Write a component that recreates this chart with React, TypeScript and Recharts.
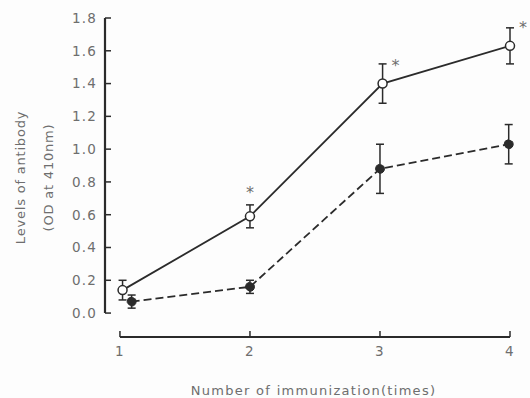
import React from 'react';
import { LineChart, Line, XAxis, YAxis, ErrorBar, ReferenceLine, LabelList } from 'recharts';

const TIMES = [1, 2, 3, 4];
const Y_TICKS = [0, 0.2, 0.4, 0.6, 0.8, 1.0, 1.2, 1.4, 1.6, 1.8];

// open circles, solid line
const OPEN_X = [1.02, 2.0, 3.02, 4.0];
const OPEN_MEAN = [0.14, 0.59, 1.4, 1.63];
const OPEN_ERR = [0.06, 0.07, 0.12, 0.11];
const OPEN_SIG = ['', 'top', 'right', 'right'];

// filled circles, dashed line
const FILLED_X = [1.09, 2.0, 3.0, 3.99];
const FILLED_MEAN = [0.07, 0.16, 0.88, 1.03];
const FILLED_ERR = [0.04, 0.04, 0.15, 0.12];

// axis frame: y axis sits left of the first tick, x axis drops below zero
const X_MIN = 0.885;
const X_MAX = 4;
const Y_BASE = -0.146;
const Y_MAX = 1.8;

const DARK = '#2b2b2b';
const GRAY = '#6e6e6e';
const FONT = '"DejaVu Sans", sans-serif';

const openData = OPEN_X.map((x, i) => ({ x, y: OPEN_MEAN[i], err: OPEN_ERR[i], sig: OPEN_SIG[i] }));
const filledData = FILLED_X.map((x, i) => ({ x, y: FILLED_MEAN[i], err: FILLED_ERR[i] }));

const renderStar = (props: any) => {
  const { x, y, value } = props;
  if (!value) return null;
  const dx = value === 'top' ? 0 : 13;
  const dy = value === 'top' ? -24 : -18;
  return (
    <text x={x + dx} y={y + dy} textAnchor="middle" dominantBaseline="central"
      fontSize={16} fill={GRAY} fontFamily={FONT}>*</text>
  );
};

const YLabel = (props: any) => {
  const { viewBox } = props;
  const cy = viewBox.y + viewBox.height / 2;
  const lines = ['Levels of antibody', '(OD at 410nm)'];
  const xs = [viewBox.x + 20, viewBox.x + 48];
  return (
    <g>
      {lines.map((t, i) => (
        <text key={t} x={xs[i]} y={cy} transform={`rotate(-90 ${xs[i]} ${cy})`}
          textAnchor="middle" dominantBaseline="central" fontSize={13}
          fill={GRAY} fontFamily={FONT} letterSpacing={0.8}>{t}</text>
      ))}
    </g>
  );
};

export default function App() {
  const tick = { fontSize: 13.5, fill: GRAY, fontFamily: FONT, letterSpacing: 1.2 };
  return (
    <div style={{ width: 530, height: 398, background: '#fdfdfd' }}>
      <style>{'body{margin:0}'}</style>
      <LineChart width={530} height={398} margin={{ top: 18, right: 20, bottom: 0, left: 0 }}>
        <XAxis type="number" dataKey="x" domain={[X_MIN, X_MAX]} ticks={TIMES}
          height={61} axisLine={false} tickSize={-6} tickMargin={15}
          tickLine={{ stroke: DARK, strokeWidth: 1.5 }} tick={tick}
          label={{ value: 'Number of immunization(times)', position: 'insideBottom', offset: 3, dx: 6,
            fill: GRAY, fontSize: 13, fontFamily: FONT, letterSpacing: 1.3 }} />
        <YAxis type="number" domain={[Y_BASE, Y_MAX]} ticks={Y_TICKS} width={105}
          axisLine={false} tickSize={-6} tickMargin={14}
          tickLine={{ stroke: DARK, strokeWidth: 1.5 }} tick={tick}
          tickFormatter={(v: number) => v.toFixed(1)}
          label={{ content: <YLabel /> }} />
        <ReferenceLine segment={[{ x: X_MIN, y: 0 }, { x: X_MIN, y: Y_MAX }]}
          stroke={DARK} strokeWidth={2.2} ifOverflow="visible" />
        <ReferenceLine segment={[{ x: TIMES[0], y: Y_BASE }, { x: TIMES[TIMES.length - 1], y: Y_BASE }]}
          stroke={DARK} strokeWidth={1.8} ifOverflow="visible" />
        <Line data={filledData} dataKey="y" stroke={DARK} strokeWidth={1.8} strokeDasharray="8 4"
          dot={{ r: 4.5, fill: DARK, stroke: DARK, strokeWidth: 1 }} isAnimationActive={false}>
          <ErrorBar dataKey="err" direction="y" width={4} stroke={DARK} strokeWidth={1.5} />
        </Line>
        <Line data={openData} dataKey="y" stroke={DARK} strokeWidth={1.8}
          dot={{ r: 4.5, fill: '#fff', stroke: DARK, strokeWidth: 1.5 }} isAnimationActive={false}>
          <ErrorBar dataKey="err" direction="y" width={4} stroke={DARK} strokeWidth={1.5} />
          <LabelList dataKey="sig" content={renderStar} />
        </Line>
      </LineChart>
    </div>
  );
}
